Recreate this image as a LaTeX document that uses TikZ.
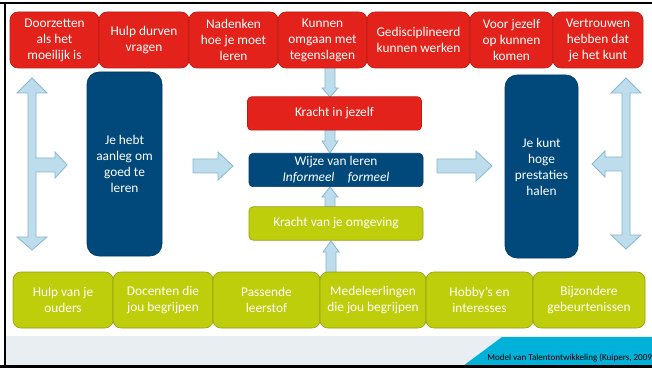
\documentclass[tikz,border=0pt]{standalone}
\usepackage{fontspec}
\setmainfont{Carlito}
\definecolor{rd}{HTML}{E3231B}
\definecolor{rdb}{HTML}{B71C16}
\definecolor{gn}{HTML}{BFCE0A}
\definecolor{gnb}{HTML}{93A016}
\definecolor{db}{HTML}{00497A}
\definecolor{dbb}{HTML}{003A62}
\definecolor{af}{HTML}{BEDDEC}
\definecolor{ab}{HTML}{86B7D3}
\definecolor{ft}{HTML}{E8EEF1}
\definecolor{cy}{HTML}{00B1D9}
\tikzset{
  tb/.style={draw=rdb, line width=0.5pt, fill=rd, rounded corners=6pt, text=white, align=center, minimum height=42pt, inner sep=1pt, font=\fontsize{10}{12}\selectfont},
  gb/.style={draw=gnb, line width=0.5pt, fill=gn, rounded corners=6pt, text=white, align=center, minimum height=42pt, inner sep=1pt, font=\fontsize{10}{12}\selectfont},
  bb/.style={draw=dbb, line width=0.5pt, fill=db, rounded corners=9pt, text=white, align=center, inner sep=1pt, font=\fontsize{10}{12}\selectfont},
  cb/.style={line width=0.5pt, rounded corners=3pt, text=white, align=center, minimum width=130.5pt, minimum height=25pt, inner sep=1pt, font=\fontsize{10}{12}\selectfont},
  barrow/.style={draw=ab, line width=0.6pt, fill=af, line join=miter}
}
\begin{document}
\begin{tikzpicture}[x=0.75pt, y=-0.75pt]
\useasboundingbox (0,0) rectangle (652,370);
\fill[white] (0,0) rectangle (652,370);
% footer
\fill[ft] (5,336) rectangle (652,366);
\fill[cy] (463,366) -- (502,337) -- (652,337) -- (652,366) -- cycle;
\node[anchor=west, inner sep=0pt, font=\fontsize{6.8}{8}\selectfont] (foot) at (487,358) {Model van Talentontwikkeling (Kuipers, 2009};
% frame
\draw[black, line width=1.6pt] (0,3) -- (652,3);
\draw[black, line width=1.6pt] (5,3) -- (5,366.5);
\draw[black, line width=1.6pt] (0,366.5) -- (652,366.5);

% side block arrows
\draw[barrow] (32,78) -- (47,93) -- (36,93) -- (36,158) -- (55,158) -- (55,152) -- (67,165) -- (55,178) -- (55,172) -- (36,172) -- (36,237) -- (47,237) -- (32,250) -- (17,237) -- (28,237) -- (28,93) -- (17,93) -- cycle;
\draw[barrow] (626,78) -- (641,93) -- (630,93) -- (630,235) -- (641,235) -- (626,249) -- (611,235) -- (622,235) -- (622,171) -- (605,171) -- (605,177) -- (592,164) -- (605,151) -- (605,157) -- (622,157) -- (622,93) -- (611,93) -- cycle;
% middle horizontal arrows
\draw[barrow] (193,159) -- (218,159) -- (218,152) -- (233,166) -- (218,180) -- (218,173) -- (193,173) -- cycle;
\draw[barrow] (437,159) -- (476,159) -- (476,151) -- (492,166) -- (476,181) -- (476,173) -- (437,173) -- cycle;
% small vertical arrows
\draw[barrow] (325,67) -- (335,67) -- (335,88) -- (338,88) -- (330,97) -- (322,88) -- (325,88) -- cycle;
\draw[barrow] (325,130) -- (335,130) -- (335,141) -- (338,141) -- (330,153) -- (322,141) -- (325,141) -- cycle;
\draw[barrow] (325,207) -- (335,207) -- (335,197) -- (338,197) -- (330,187) -- (322,197) -- (325,197) -- cycle;
\draw[barrow] (326,273) -- (336,273) -- (336,252) -- (339,252) -- (331,241) -- (323,252) -- (326,252) -- cycle;

% top red boxes
\node[tb, minimum width=66.75pt] (t1) at (54.5,40) {Doorzetten\\als het\\moeilijk is};
\node[tb, minimum width=67.5pt] (t2) at (144,40) {Hulp durven\\vragen};
\node[tb, minimum width=66.75pt] (t3) at (233.5,40) {Nadenken\\hoe je moet\\leren};
\node[tb, minimum width=66.75pt] (t4) at (322.5,40) {Kunnen\\omgaan met\\tegenslagen};
\node[tb, minimum width=77.25pt] (t5) at (418.5,40) {Gedisciplineerd\\kunnen werken};
\node[tb, minimum width=62.25pt] (t6) at (511.5,40) {Voor jezelf\\op kunnen\\komen};
\node[tb, minimum width=67.5pt] (t7) at (598,40) {Vertrouwen\\hebben dat\\je het kunt};

% bottom green boxes
\node[gb, minimum width=75pt] (b1) at (63,300) {Hulp van je\\ouders};
\node[gb, minimum width=75pt] (b2) at (163,300) {Docenten die\\jou begrijpen};
\node[gb, minimum width=80.25pt] (b3) at (266.5,300) {Passende\\leerstof};
\node[gb, minimum width=79.5pt] (b4) at (373,300) {Medeleerlingen\\die jou begrijpen};
\node[gb, minimum width=80.25pt] (b5) at (479.5,300) {Hobby's en\\interesses};
\node[gb, minimum width=84pt] (b6) at (589,300) {Bijzondere\\gebeurtenissen};

% dark blue side boxes
\node[bb, minimum width=56.25pt, minimum height=138pt] (l) at (124.5,164) {Je hebt\\aanleg om\\goed te\\leren};
\node[bb, minimum width=54.75pt, minimum height=137.25pt] (r) at (541.5,166.5) {Je kunt\\hoge\\prestaties\\halen};

% centre boxes
\node[cb, draw=rdb, fill=rd] (k1) at (334.5,113.5) {Kracht in jezelf};
\node[cb, draw=dbb, fill=db] (w) at (336,170) {Wijze van leren\\\textit{Informeel\quad formeel}};
\node[cb, draw=gnb, fill=gn] (k2) at (336,223.5) {Kracht van je omgeving};
\end{tikzpicture}
\end{document}
